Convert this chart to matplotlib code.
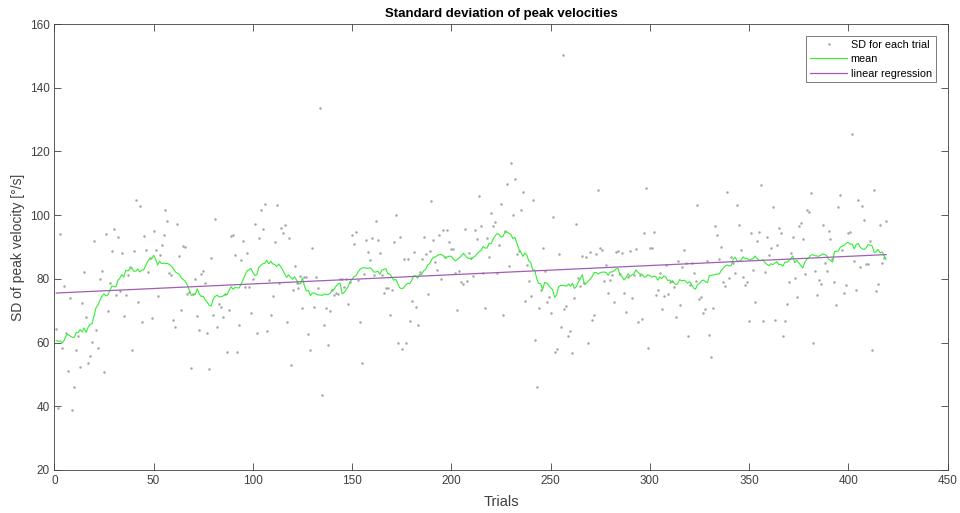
import numpy as np
import pandas as pd
import matplotlib
matplotlib.use("Agg")
import matplotlib.pyplot as plt

# SD of peak velocity for each trial (trial 1..420)
sd_trials = [
    # 1 - 55
    64.1, 39.3, 94.1, 58.4, 77.6, 63.1, 51.0, 74.0, 38.7, 45.9,
    57.8, 62.1, 52.2, 72.3, 82.0, 68.1, 53.5, 55.8, 60.2, 91.9,
    64.0, 58.4, 80.0, 82.5, 50.7, 94.1, 69.8, 78.7, 88.7, 95.7,
    74.9, 93.3, 76.1, 88.0, 68.4, 75.0, 81.1, 83.7, 57.8, 88.6,
    104.7, 72.7, 103.0, 66.3, 93.4, 89.2, 82.2, 86.5, 67.8, 94.9,
    89.2, 74.6, 87.4, 90.7, 93.9,
    # 56 - 111
    101.6, 98.2, 81.9, 81.1, 67.0, 65.0, 97.3, 87.2, 70.1, 90.2,
    90.1, 75.2, 76.0, 51.9, 75.2, 80.0, 68.2, 63.9, 81.6, 82.5,
    78.8, 63.0, 51.8, 86.4, 68.7, 98.9, 64.9, 72.0, 71.1, 68.1,
    75.1, 57.0, 70.3, 93.6, 93.9, 87.6, 57.0, 65.6, 86.0, 92.0,
    77.5, 88.2, 77.5, 69.2, 80.0, 97.3, 63.1, 92.8, 101.7, 95.7,
    103.6, 63.7, 79.6, 68.7, 74.5, 91.6,
    # 112 - 168
    103.3, 78.8, 96.0, 94.4, 97.0, 66.5, 92.8, 53.1, 76.4, 84.0,
    78.8, 77.2, 80.9, 71.0, 80.6, 80.7, 62.7, 57.6, 89.8, 71.3,
    80.6, 77.0, 133.6, 43.6, 65.4, 71.0, 59.3, 70.0, 76.5, 74.9,
    75.7, 75.3, 79.8, 79.8, 77.3, 79.8, 72.0, 79.0, 93.9, 90.9,
    94.8, 79.7, 66.5, 53.6, 81.6, 92.1, 88.5, 86.0, 92.8, 81.3,
    98.1, 92.2, 88.2, 81.3, 75.5, 77.0, 77.0,
    # 169 - 222
    68.6, 76.5, 91.6, 100.1, 59.8, 93.3, 58.1, 86.3, 59.9, 86.3,
    66.8, 73.0, 88.3, 71.2, 65.4, 82.2, 86.3, 93.2, 87.7, 75.1,
    88.9, 104.6, 92.3, 85.4, 82.9, 93.7, 80.1, 95.2, 87.0, 95.4,
    91.6, 89.5, 89.4, 81.7, 70.1, 82.4, 79.1, 78.4, 95.5, 79.3,
    88.1, 86.7, 81.0, 95.2, 92.6, 106.1, 96.7, 81.7, 71.0, 92.8,
    87.0, 100.7, 96.5, 98.0,
    # 223 - 279
    81.9, 90.7, 103.4, 68.8, 94.9, 109.8, 84.0, 116.3, 99.9, 111.4,
    87.8, 88.8, 101.6, 107.2, 73.2, 84.2, 79.4, 74.7, 104.9, 60.9,
    45.9, 71.0, 76.6, 89.7, 82.4, 72.6, 74.2, 69.4, 99.5, 57.0,
    58.1, 87.8, 65.0, 150.3, 70.4, 71.6, 62.1, 63.5, 56.7, 73.9,
    97.3, 80.3, 77.7, 87.2, 78.8, 86.9, 59.8, 88.5, 67.0, 68.6,
    87.7, 108.0, 89.6, 89.1, 79.3, 84.2, 75.4,
    # 280 - 334
    79.6, 81.2, 72.8, 88.4, 88.6, 81.4, 88.0, 75.4, 69.7, 80.7,
    88.7, 73.9, 81.2, 89.4, 66.3, 81.1, 67.5, 94.4, 108.5, 58.2,
    89.6, 89.8, 94.6, 74.8, 76.4, 81.7, 70.4, 74.7, 84.4, 75.1,
    79.1, 79.3, 77.5, 68.1, 85.7, 71.9, 83.8, 89.2, 85.0, 61.9,
    78.2, 85.0, 81.9, 79.3, 103.2, 73.6, 74.3, 69.4, 70.6, 85.6,
    62.4, 55.6, 70.8, 96.5, 93.7,
    # 335 - 389
    86.3, 90.1, 78.9, 77.9, 107.4, 80.3, 87.0, 85.0, 81.9, 103.2,
    96.8, 89.2, 80.6, 78.1, 79.0, 66.7, 94.4, 82.8, 72.8, 91.8,
    94.8, 109.5, 66.7, 82.3, 93.0, 87.5, 89.6, 102.5, 67.1, 90.6,
    95.9, 94.5, 62.0, 66.7, 72.0, 78.9, 88.0, 93.2, 80.3, 74.4,
    96.5, 97.6, 92.4, 81.6, 101.6, 101.0, 107.0, 59.9, 82.4, 74.8,
    79.6, 78.5, 97.0, 84.9, 82.4,
    # 390 - 420
    94.9, 92.6, 86.1, 79.1, 71.7, 102.6, 106.3, 89.2, 75.4, 78.1,
    94.4, 94.8, 125.5, 85.7, 76.4, 104.9, 83.8, 103.0, 98.6, 84.7,
    84.7, 92.0, 57.6, 108.0, 76.2, 78.5, 97.0, 85.0, 86.5, 98.2,
]

x_ticks = [0, 50, 100, 150, 200, 250, 300, 350, 400, 450]
y_ticks = [20, 40, 60, 80, 100, 120, 140, 160]

sd = np.array(sd_trials)
trials = np.arange(1, len(sd) + 1)

# moving mean (window of 20 trials) and linear fit
mean_line = pd.Series(sd).rolling(20, center=True, min_periods=1).mean().values
slope, icpt = np.polyfit(trials, sd, 1)
reg_line = slope * trials + icpt

plt.rcParams['font.family'] = ['Liberation Sans', 'DejaVu Sans']
axcol = '#404040'

fig = plt.figure(figsize=(9.6, 5.13), dpi=100)
ax = fig.add_axes([0.0566, 0.084, 0.9305, 0.869])

ax.plot(trials, sd, linestyle='none', marker='o', markersize=1.8,
        color='#a6a6a6', markeredgewidth=0, label='SD for each trial')
ax.plot(trials, mean_line, color='#33ee33', linewidth=0.8, label='mean')
ax.plot(trials, reg_line, color='#a25cb4', linewidth=0.9, label='linear regression')

ax.set_xlim(0, 450)
ax.set_ylim(20, 160)
ax.set_xticks(x_ticks)
ax.set_yticks(y_ticks)
ax.tick_params(direction='in', length=5, width=0.6, top=True, right=True,
               colors=axcol, labelsize=8.5, labelcolor=axcol)
for sp in ax.spines.values():
    sp.set_color(axcol)
    sp.set_linewidth(0.6)

ax.set_title('Standard deviation of peak velocities', fontsize=9.5,
             fontweight='bold', color='black', pad=5)
ax.set_xlabel('Trials', fontsize=10.5, color=axcol, labelpad=6)
ax.set_ylabel('SD of peak velocity [°/s]', fontsize=10, color=axcol, labelpad=3)

leg = ax.legend(loc='upper right', fontsize=7.8, frameon=True, fancybox=False,
                borderpad=0.35, handlelength=3.4, handletextpad=0.35,
                labelspacing=0.4, borderaxespad=0,
                bbox_to_anchor=(0.9866, 0.973))
leg.get_frame().set_edgecolor(axcol)
leg.get_frame().set_linewidth(0.6)

fig.savefig('out.png', dpi=100)
